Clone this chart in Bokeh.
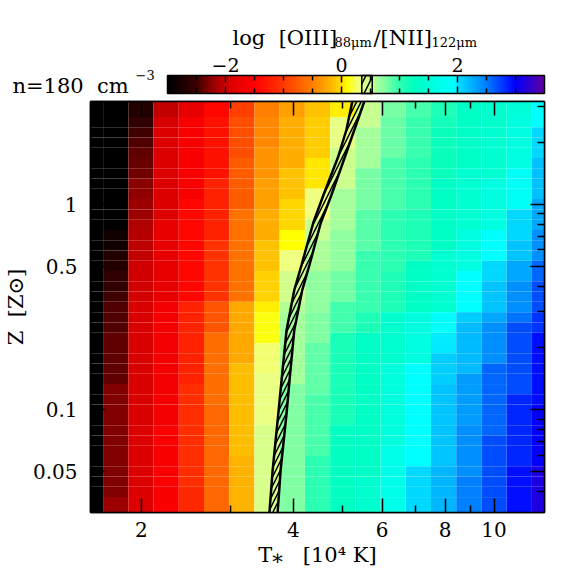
import math
import numpy as np
from bokeh.plotting import figure
from bokeh.layouts import column
from bokeh.core.properties import value
from bokeh.models import (LinearColorMapper, FixedTicker, LogAxis, ColumnDataSource,
                          CustomJSTickFormatter)
from bokeh.embed import file_html
from bokeh.resources import INLINE

# ---------------- data ----------------
LOG_T = [4.20, 4.25, 4.30, 4.35, 4.40, 4.45, 4.50, 4.55, 4.60, 4.65,
         4.70, 4.75, 4.80, 4.85, 4.90, 4.95, 5.00, 5.05, 5.10]
LOG_Z = [0.45, 0.40, 0.35, 0.30, 0.25, 0.20, 0.15, 0.10, 0.05, 0.00,
         -0.05, -0.10, -0.15, -0.20, -0.25, -0.30, -0.35, -0.40, -0.45, -0.50,
         -0.55, -0.60, -0.65, -0.70, -0.75, -0.80, -0.85, -0.90, -0.95, -1.00,
         -1.05, -1.10, -1.15, -1.20, -1.25, -1.30, -1.35, -1.40, -1.45]
LOG_Z_LIMITS = [0.5, -1.5]

# log [OIII]88/[NII]122 per cell: one row per LOG_Z, one column per LOG_T
RATIO = [
 [-3.1, -3.0, -2.7, -2.05, -1.8, -1.45, -0.95, -0.5, -0.3, -0.12, 0.05, 0.5, 0.78, 0.92, 1.1, 1.3, 1.38, 1.5, 1.95],
 [-3.1, -3.0, -2.6, -1.95, -1.6, -1.35, -0.85, -0.45, -0.22, -0.08, 0.35, 0.5, 0.82, 0.98, 1.15, 1.3, 1.38, 1.6, 1.95],
 [-3.1, -3.0, -2.48, -1.9, -1.6, -1.35, -0.85, -0.45, -0.22, -0.08, 0.35, 0.62, 0.82, 0.98, 1.2, 1.32, 1.42, 1.6, 2.05],
 [-3.1, -3.0, -2.45, -1.9, -1.6, -1.35, -0.85, -0.45, -0.22, -0.08, 0.35, 0.62, 0.82, 0.98, 1.2, 1.32, 1.42, 1.6, 2.05],
 [-3.1, -3.0, -2.4, -1.9, -1.6, -1.35, -0.85, -0.38, -0.22, -0.08, 0.48, 0.62, 0.82, 0.98, 1.2, 1.32, 1.42, 1.6, 2.05],
 [-3.1, -3.0, -2.36, -1.9, -1.6, -1.35, -0.75, -0.38, -0.22, 0.02, 0.48, 0.62, 0.92, 1.02, 1.2, 1.32, 1.42, 1.6, 2.18],
 [-3.1, -3.0, -2.33, -1.9, -1.6, -1.35, -0.75, -0.38, -0.12, 0.02, 0.48, 0.78, 0.92, 1.02, 1.2, 1.42, 1.42, 1.85, 2.18],
 [-3.1, -3.0, -2.27, -1.9, -1.6, -1.2, -0.75, -0.3, -0.12, 0.02, 0.48, 0.78, 0.92, 1.02, 1.3, 1.42, 1.6, 1.85, 2.18],
 [-3.1, -3.0, -2.24, -1.9, -1.6, -1.2, -0.75, -0.3, -0.12, 0.3, 0.62, 0.78, 0.92, 1.02, 1.3, 1.42, 1.6, 1.85, 2.18],
 [-3.1, -3.0, -2.2, -1.9, -1.45, -1.2, -0.75, -0.3, -0.02, 0.3, 0.62, 0.78, 0.92, 1.02, 1.3, 1.42, 1.6, 1.85, 2.3],
 [-3.1, -3.0, -2.18, -1.9, -1.45, -1.2, -0.6, -0.22, -0.02, 0.3, 0.62, 0.87, 1.02, 1.1, 1.3, 1.42, 1.6, 2.05, 2.3],
 [-3.1, -3.0, -2.12, -1.8, -1.45, -1.2, -0.6, -0.22, -0.02, 0.5, 0.62, 0.87, 1.02, 1.1, 1.3, 1.42, 1.6, 2.05, 2.3],
 [-3.1, -2.85, -2.1, -1.8, -1.45, -1.2, -0.6, -0.22, 0.1, 0.5, 0.7, 0.87, 1.02, 1.1, 1.3, 1.6, 1.95, 2.05, 2.42],
 [-3.1, -2.85, -2.06, -1.8, -1.45, -1.05, -0.6, -0.12, 0.1, 0.6, 0.7, 0.87, 1.02, 1.1, 1.3, 1.6, 1.95, 2.15, 2.42],
 [-3.1, -2.7, -2.04, -1.8, -1.45, -1.05, -0.6, -0.12, 0.3, 0.6, 0.7, 0.98, 1.02, 1.1, 1.42, 1.6, 1.95, 2.15, 2.42],
 [-3.1, -2.7, -2.0, -1.8, -1.45, -1.05, -0.6, -0.12, 0.3, 0.6, 0.7, 0.98, 1.02, 1.3, 1.42, 1.6, 2.05, 2.3, 2.58],
 [-3.1, -2.6, -2.0, -1.8, -1.45, -1.05, -0.6, -0.05, 0.45, 0.7, 0.8, 0.98, 1.1, 1.3, 1.42, 1.95, 2.05, 2.3, 2.58],
 [-3.1, -2.6, -1.98, -1.8, -1.45, -1.05, -0.6, -0.05, 0.45, 0.7, 0.8, 0.98, 1.1, 1.3, 1.42, 1.95, 2.15, 2.42, 2.7],
 [-3.1, -2.5, -1.96, -1.8, -1.45, -1.05, -0.6, -0.05, 0.45, 0.7, 0.8, 0.98, 1.1, 1.3, 1.42, 1.95, 2.15, 2.42, 2.7],
 [-3.1, -2.45, -1.92, -1.65, -1.2, -0.8, -0.25, 0.05, 0.58, 0.7, 0.95, 0.98, 1.1, 1.3, 1.42, 1.95, 2.15, 2.42, 2.7],
 [-3.1, -2.45, -1.92, -1.65, -1.2, -0.8, -0.25, 0.12, 0.63, 0.75, 0.95, 1.1, 1.4, 1.6, 1.9, 2.1, 2.3, 2.55, 2.8],
 [-3.1, -2.45, -1.92, -1.65, -1.2, -0.8, -0.25, 0.12, 0.63, 0.75, 0.95, 1.1, 1.4, 1.6, 1.9, 2.2, 2.42, 2.7, 2.8],
 [-3.1, -2.38, -1.92, -1.65, -1.2, -0.62, -0.25, 0.12, 0.63, 0.75, 1.12, 1.3, 1.4, 1.6, 2.0, 2.2, 2.42, 2.7, 2.95],
 [-3.1, -2.38, -1.92, -1.65, -1.2, -0.62, -0.25, 0.28, 0.63, 0.85, 1.12, 1.3, 1.4, 1.6, 2.0, 2.2, 2.42, 2.7, 2.95],
 [-3.1, -2.38, -1.92, -1.65, -1.2, -0.62, -0.25, 0.28, 0.63, 0.85, 1.12, 1.3, 1.4, 1.6, 2.1, 2.2, 2.42, 2.7, 2.95],
 [-3.1, -2.38, -1.92, -1.65, -1.2, -0.62, -0.15, 0.28, 0.63, 0.85, 1.12, 1.3, 1.55, 1.95, 2.1, 2.2, 2.58, 2.7, 2.95],
 [-3.1, -2.38, -1.92, -1.65, -1.2, -0.62, -0.15, 0.33, 0.63, 0.85, 1.12, 1.3, 1.55, 1.95, 2.1, 2.35, 2.58, 2.7, 2.95],
 [-3.1, -2.28, -1.92, -1.65, -1.1, -0.62, -0.15, 0.33, 0.75, 0.85, 1.12, 1.3, 1.55, 1.95, 2.15, 2.35, 2.58, 2.7, 2.95],
 [-3.1, -2.28, -1.92, -1.65, -1.1, -0.62, -0.15, 0.33, 0.75, 0.92, 1.12, 1.3, 1.55, 1.95, 2.15, 2.35, 2.58, 2.85, 2.95],
 [-3.1, -2.28, -1.92, -1.65, -1.1, -0.68, -0.15, 0.33, 0.75, 0.92, 1.12, 1.3, 1.55, 1.95, 2.15, 2.35, 2.58, 2.85, 3.02],
 [-3.1, -2.28, -1.92, -1.65, -1.1, -0.68, -0.15, 0.33, 0.75, 0.92, 1.12, 1.3, 1.55, 1.95, 2.15, 2.35, 2.58, 2.85, 3.02],
 [-3.1, -2.28, -1.88, -1.58, -1.1, -0.68, -0.15, 0.42, 0.75, 0.92, 1.25, 1.3, 1.55, 1.95, 2.15, 2.42, 2.58, 2.85, 3.02],
 [-3.1, -2.28, -1.88, -1.58, -1.1, -0.68, -0.15, 0.42, 0.75, 0.92, 1.25, 1.3, 1.55, 1.95, 2.15, 2.42, 2.68, 2.85, 3.02],
 [-3.1, -2.28, -1.88, -1.58, -1.1, -0.68, -0.15, 0.42, 0.75, 0.92, 1.25, 1.3, 1.7, 1.95, 2.15, 2.42, 2.68, 2.85, 3.02],
 [-3.1, -2.28, -1.88, -1.58, -1.1, -0.68, -0.2, 0.42, 0.75, 1.02, 1.25, 1.3, 1.7, 1.95, 2.15, 2.42, 2.68, 2.85, 3.02],
 [-3.1, -2.28, -1.88, -1.58, -1.1, -0.68, -0.2, 0.42, 0.75, 1.02, 1.25, 1.3, 1.7, 2.05, 2.22, 2.42, 2.68, 2.95, 3.15],
 [-3.1, -2.28, -1.88, -1.58, -1.1, -0.68, -0.2, 0.42, 0.75, 1.02, 1.25, 1.4, 1.7, 2.05, 2.22, 2.5, 2.68, 2.95, 3.15],
 [-3.1, -2.28, -1.88, -1.58, -1.15, -0.68, -0.2, 0.42, 0.75, 1.02, 1.25, 1.4, 1.7, 2.05, 2.22, 2.5, 2.68, 2.95, 3.15],
 [-3.1, -2.2, -1.88, -1.58, -1.15, -0.68, -0.2, 0.42, 0.75, 1.02, 1.25, 1.4, 1.7, 2.05, 2.22, 2.5, 2.68, 2.95, 3.15],
]

# observed-ratio band (two contours), T in 1e4 K, Z in Zsun
BAND_Z = [0.0316, 0.0509, 0.0964, 0.1396, 0.2444, 0.3825, 0.5062, 0.8104, 1.109, 1.698, 2.298, 3.162]
BAND_LOW_T = [3.587, 3.640, 3.736, 3.792, 3.879, 4.018, 4.153, 4.380, 4.590, 4.907, 5.096, 5.236]
BAND_HIGH_T = [3.724, 3.775, 3.879, 3.932, 4.018, 4.167, 4.306, 4.533, 4.760, 5.061, 5.284, 5.530]
BAND_LEVELS = [0.35, 0.53]

X_TICKS = [2, 4, 6, 8, 10]
X_MINOR = [3, 5, 7, 9]
Y_TICKS = [0.05, 0.1, 0.5, 1]
Y_MINOR = [0.04, 0.06, 0.07, 0.08, 0.09, 0.2, 0.3, 0.4, 0.6, 0.7, 0.8, 0.9, 2, 3]
CB_LIMITS = [-3.0, 3.5]
CB_TICKS = [-2, 0, 2]
CB_TICK_LABELS = ["−2", "0", "2"]
CB_MINOR = [-2.5, -1.5, -1, -0.5, 0.5, 1, 1.5, 2.5, 3]

# ---------------- colour table (style) ----------------
ANCHORS = [(-3.0, '#000000'), (-2.75, '#1a0000'), (-2.5, '#400000'), (-2.25, '#900000'),
           (-2.0, '#d00000'), (-1.75, '#ee0000'), (-1.5, '#ff0000'), (-1.0, '#ff3800'),
           (-0.5, '#ff8000'), (-0.25, '#ffa800'), (-0.02, '#ffd800'), (0.1, '#ffff00'),
           (0.3, '#f0ff80'), (0.5, '#c8ff90'), (0.7, '#90ffa0'), (0.85, '#60ffa8'),
           (1.0, '#30ffb0'), (1.25, '#00ffc0'), (1.5, '#00ffd8'), (1.95, '#00ffff'),
           (2.05, '#00d8ff'), (2.5, '#0080ff'), (3.0, '#0000ff'), (3.5, '#6000a0')]
av = [a[0] for a in ANCHORS]
argb = np.array([[int(a[1][i:i + 2], 16) for i in (1, 3, 5)] for a in ANCHORS], dtype=float)
NCOL = 261
levels = np.linspace(CB_LIMITS[0], CB_LIMITS[1], NCOL)
palette = []
for v in levels:
    r, g, b = (int(round(np.interp(v, av, argb[:, c]))) for c in range(3))
    palette.append('#%02x%02x%02x' % (r, g, b))
mapper = LinearColorMapper(palette=palette, low=CB_LIMITS[0], high=CB_LIMITS[1])

FONT = "DejaVu Serif"
FS = "20px"
W = 574
NB = "\u00a0"

# ---------------- main panel ----------------
lt = np.array(LOG_T) - 4.0
lz = np.array(LOG_Z)
xe = np.concatenate([[lt[0]], (lt[:-1] + lt[1:]) / 2, [lt[-1]]])
ze = np.concatenate([[LOG_Z_LIMITS[0]], (lz[:-1] + lz[1:]) / 2, [LOG_Z_LIMITS[1]]])
L, R, T, B, V = [], [], [], [], []
for k in range(len(LOG_Z)):
    for j in range(len(LOG_T)):
        L.append(10 ** xe[j]); R.append(10 ** xe[j + 1])
        T.append(10 ** ze[k]); B.append(10 ** ze[k + 1])
        V.append(RATIO[k][j])
src = ColumnDataSource(dict(left=L, right=R, top=T, bottom=B, val=V))

xr = (10 ** lt[0], 10 ** lt[-1])
yr = (10 ** LOG_Z_LIMITS[1], 10 ** LOG_Z_LIMITS[0])

p = figure(width=W, height=476, x_axis_type="log", y_axis_type="log",
           x_range=xr, y_range=yr, output_backend="svg", toolbar_location=None,
           min_border_left=88, min_border_right=30, min_border_top=4, min_border_bottom=61)
p.quad(left='left', right='right', top='top', bottom='bottom', source=src,
       fill_color={'field': 'val', 'transform': mapper}, line_color=None)

px = BAND_LOW_T + BAND_HIGH_T[::-1]
py = BAND_Z + BAND_Z[::-1]
p.patch(px, py, fill_alpha=0, line_color=None, hatch_pattern="/", hatch_color="black",
        hatch_weight=1.5, hatch_scale=9)
p.line(BAND_LOW_T, BAND_Z, line_color="black", line_width=2.5)
p.line(BAND_HIGH_T, BAND_Z, line_color="black", line_width=2.5)

p.grid.visible = False
p.outline_line_color = "black"
p.outline_line_width = 1.5

fmt = CustomJSTickFormatter(code="return tick.toString();")
blank = CustomJSTickFormatter(code="return '';")


def style_axis(ax, labels=True):
    ax.major_tick_in = 14
    ax.major_tick_out = 0
    ax.minor_tick_in = 7
    ax.minor_tick_out = 0
    ax.axis_line_width = 1.5
    ax.major_tick_line_width = 1.5
    ax.minor_tick_line_width = 1.5
    ax.axis_line_color = "black"
    ax.major_tick_line_color = "black"
    ax.minor_tick_line_color = "black"
    if labels:
        ax.major_label_text_font = FONT
        ax.major_label_text_font_size = FS
        ax.major_label_text_color = "black"
        ax.formatter = fmt
        ax.axis_label_text_font = FONT
        ax.axis_label_text_font_size = "21px"
        ax.axis_label_text_font_style = "normal"
        ax.axis_label_text_color = "black"
    else:
        ax.formatter = blank
        ax.major_label_standoff = 0


p.xaxis.ticker = FixedTicker(ticks=X_TICKS, minor_ticks=X_MINOR)
p.yaxis.ticker = FixedTicker(ticks=Y_TICKS, minor_ticks=Y_MINOR)
style_axis(p.xaxis[0]); style_axis(p.yaxis[0])
p.xaxis.major_label_standoff = 9
p.yaxis.major_label_standoff = 13
p.xaxis.axis_label = "T⁎" + NB + NB + NB + "[10⁴" + NB + "K]"
p.xaxis.axis_label_standoff = 3
p.yaxis.axis_label = "Z" + NB + NB + "[Z⊙]"
p.yaxis.axis_label_standoff = 2

top_ax = LogAxis(ticker=FixedTicker(ticks=X_TICKS, minor_ticks=X_MINOR))
style_axis(top_ax, labels=False)
p.add_layout(top_ax, "above")
right_ax = LogAxis(ticker=FixedTicker(ticks=Y_TICKS, minor_ticks=Y_MINOR))
style_axis(right_ax, labels=False)
p.add_layout(right_ax, "right")

# ---------------- header: colour bar and titles ----------------
HDR_H = 97
BAR_LEFT, BAR_RIGHT, BAR_TOP, BAR_BOTTOM = 167, 544, 75, 93   # pixel layout
sx = (BAR_RIGHT - BAR_LEFT) / (CB_LIMITS[1] - CB_LIMITS[0])
sy = BAR_BOTTOM - BAR_TOP
hx0 = CB_LIMITS[0] - BAR_LEFT / sx
hx1 = CB_LIMITS[1] + (W - BAR_RIGHT) / sx
hy0 = -(HDR_H - BAR_BOTTOM) / sy
hy1 = 1 + BAR_TOP / sy


def hx(pxl):
    return hx0 + pxl / sx


def hy(pyl):
    return hy1 - pyl / sy


hdr = figure(width=W, height=HDR_H, x_range=(hx0, hx1), y_range=(hy0, hy1),
             output_backend="svg", toolbar_location=None, x_axis_location=None,
             y_axis_location=None, min_border_left=0, min_border_right=0,
             min_border_top=0, min_border_bottom=0)
hdr.grid.visible = False
hdr.outline_line_color = None
hdr.image(image=[levels.reshape(1, -1)], x=CB_LIMITS[0], y=0, dw=CB_LIMITS[1] - CB_LIMITS[0],
          dh=1, color_mapper=mapper)
hdr.quad(left=BAND_LEVELS[0], right=BAND_LEVELS[1], bottom=0, top=1, fill_alpha=0,
         hatch_pattern="/", hatch_color="black", hatch_weight=1.5, hatch_scale=14,
         line_color="black", line_width=1.5)
hdr.quad(left=CB_LIMITS[0], right=CB_LIMITS[1], bottom=0, top=1, fill_alpha=0,
         line_color="black", line_width=1.5)
maj_len, min_len = 7 / sy, 5 / sy
hdr.segment(x0=CB_TICKS, x1=CB_TICKS, y0=[0] * 3, y1=[maj_len] * 3, line_color="black", line_width=1.5)
hdr.segment(x0=CB_TICKS, x1=CB_TICKS, y0=[1 - maj_len] * 3, y1=[1] * 3, line_color="black", line_width=1.5)
nm = len(CB_MINOR)
hdr.segment(x0=CB_MINOR, x1=CB_MINOR, y0=[0] * nm, y1=[min_len] * nm, line_color="black", line_width=1.5)
hdr.segment(x0=CB_MINOR, x1=CB_MINOR, y0=[1 - min_len] * nm, y1=[1] * nm, line_color="black", line_width=1.5)
hdr.text(x=CB_TICKS, y=[hy(64)] * 3, text=CB_TICK_LABELS, text_align="center",
         text_baseline="alphabetic", text_font=value(FONT), text_font_size="19px",
         text_color="black")

hdr.text(x=[hx(232), hx(373)], y=[hy(37), hy(37)],
         text=["log" + NB + NB + "[OIII]", "/[NII]"],
         text_align="left", text_baseline="alphabetic", text_font=value(FONT),
         text_font_size="21px", text_color="black")
hdr.text(x=[hx(334), hx(431)], y=[hy(42), hy(42)], text=["88μm", "122μm"],
         text_align="left", text_baseline="alphabetic", text_font=value(FONT),
         text_font_size="13px", text_color="black")
hdr.text(x=[hx(12)], y=[hy(85)], text=["n=180" + NB + NB + "cm"], text_align="left",
         text_baseline="alphabetic", text_font=value(FONT), text_font_size="21px",
         text_color="black")
hdr.text(x=[hx(135)], y=[hy(74)], text=["−3"], text_align="left",
         text_baseline="alphabetic", text_font=value(FONT), text_font_size="13px",
         text_color="black")

for f in (hdr, p):
    try:
        f.frame_align = False
    except Exception:
        pass

layout = column(hdr, p)
open("out.html", "w").write(file_html(layout, INLINE))
